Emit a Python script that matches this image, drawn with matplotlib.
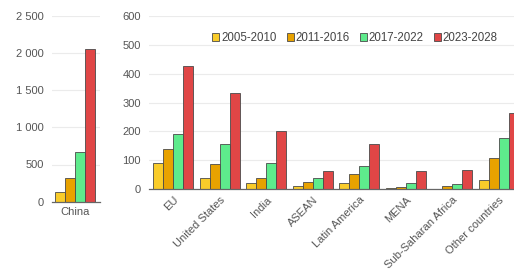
import numpy as np
import matplotlib.pyplot as plt

periods = ['2005-2010', '2011-2016', '2017-2022', '2023-2028']
colors = ['#F9CC2A', '#E8A200', '#5EEB8C', '#E04646']

china = [134, 313, 672, 2055]

regions = ['EU', 'United States', 'India', 'ASEAN', 'Latin America', 'MENA',
           'Sub-Saharan Africa', 'Other countries']
v2005 = [90, 38, 23, 11, 23, 5, 2, 32]
v2011 = [139, 86, 38, 24, 52, 8, 12, 107]
v2017 = [190, 157, 90, 40, 82, 21, 17, 176]
v2023 = [427, 334, 203, 63, 156, 62, 65, 263]

W, H = 514, 273
fig = plt.figure(figsize=(W / 100, H / 100), dpi=100)
plt.rcParams['font.family'] = ['Arial', 'Liberation Sans', 'DejaVu Sans']

bw = 0.215
offs = (np.arange(4) - 1.5) * bw
grey = '#555555'


def style(ax, ymax, step, labels):
    ax.set_ylim(0, ymax)
    ax.set_yticks(np.arange(0, ymax + 1, step))
    ax.set_yticklabels(labels)
    ax.grid(axis='y', color='#ebebeb', lw=0.8)
    ax.set_axisbelow(True)
    for s in ['left', 'right', 'top']:
        ax.spines[s].set_visible(False)
    ax.spines['bottom'].set_color('#666666')
    ax.spines['bottom'].set_linewidth(0.9)
    ax.tick_params(axis='y', length=0, pad=6, labelsize=8, labelcolor=grey)
    ax.tick_params(axis='x', length=0, pad=4, labelsize=8, labelcolor=grey)


# left panel - China
ax1 = fig.add_axes([52 / W, 1 - 201.7 / H, 48 / W, 186 / H])
for i in range(4):
    ax1.bar(offs[i], china[i], bw, color=colors[i], edgecolor='#4a4a4a', lw=0.6)
ax1.set_xlim(-0.5, 0.53)
ax1.set_xticks([0])
ax1.set_xticklabels(['China'])
style(ax1, 2500, 500, ['0', '500', '1 000', '1 500', '2 000', '2 500'])

# right panel - other regions
ax2 = fig.add_axes([149 / W, 1 - 189.3 / H, 365 / W, 173.6 / H])
x = np.arange(len(regions))
for i, vals in enumerate([v2005, v2011, v2017, v2023]):
    ax2.bar(x + offs[i], vals, bw, color=colors[i], edgecolor='#4a4a4a',
            lw=0.6, label=periods[i])
ax2.set_xlim(-0.52, 7.33)
ax2.set_xticks(x)
ax2.set_xticklabels(regions, rotation=45, ha='right', rotation_mode='anchor')
style(ax2, 600, 100, [str(v) for v in range(0, 601, 100)])

ax2.legend(loc='center', bbox_to_anchor=(355 / W, 1 - 38 / H),
           bbox_transform=fig.transFigure, ncol=4, frameon=False,
           fontsize=8.3, labelcolor='#444444', handlelength=0.6,
           handleheight=0.6, handletextpad=0.15, columnspacing=0.9)

fig.savefig('out.png', dpi=100)
